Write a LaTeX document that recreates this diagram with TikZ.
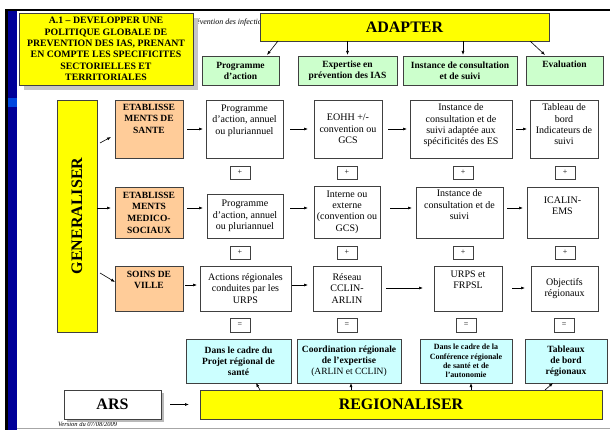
\documentclass[tikz,border=0pt]{standalone}
\usepackage{fontspec}
\setmainfont{Liberation Serif}
\usetikzlibrary{arrows.meta,calc}
\definecolor{ylw}{HTML}{FFFF00}
\definecolor{org}{HTML}{FFCC99}
\definecolor{grn}{HTML}{CCFFCC}
\definecolor{cyn}{HTML}{CCFFFF}
\definecolor{bord}{HTML}{404040}
\definecolor{dblue}{HTML}{000099}
\newcommand\boxnode[7]{\node[bx,#6,minimum width={#4-#2},minimum height={#5-#3}] (#1) at ({(#2+#4)/2},{(#3+#5)/2}) {#7};}
\newcommand\toptext[4]{\node[tx,#3,anchor=north] (#1t) at ($(#1.north)+(0,#2)$) {#4};}
\newcommand\harr[5]{\path (0,#3) coordinate (tmpy); \draw[arr,shorten <=#4pt,shorten >=#5pt] (#1.east |- tmpy) -- (#2.west |- tmpy);}
\tikzset{
  bx/.style={draw=bord,line width=0.8pt,inner sep=0pt,outer sep=0pt,align=center,font=\fontsize{10}{11.3}\selectfont},
  tx/.style={inner sep=0pt,outer sep=0pt,align=center,font=\fontsize{10}{11.3}\selectfont},
  bt/.style={font=\fontsize{9.5}{11.7}\selectfont\bfseries},
  gt/.style={font=\fontsize{9.5}{11}\selectfont\bfseries},
  big/.style={font=\fontsize{16}{18}\selectfont\bfseries},
  sm/.style={font=\fontsize{8}{9}\selectfont},
  arr/.style={-{Latex[length=4pt,width=3pt]},line width=0.6pt,black},
}
\begin{document}
\begin{tikzpicture}[x=1pt,y=-1pt]
\useasboundingbox (0,0) rectangle (610,430);
\fill[white] (0,0) rectangle (610,430);
% frame
\fill[black] (5,9) rectangle (610,11.5);
\fill[black] (5,9) rectangle (7.5,430);
\fill[dblue] (7.5,11.5) rectangle (17,430);
\fill[blue!60!cyan!70!dblue] (7.5,98) rectangle (17,107);
\draw[gray!70,line width=0.8pt] (17,428.5) -- (610,428.5);
% header text
\node[anchor=base west,inner sep=0pt,font=\fontsize{8}{9}\selectfont\itshape] (hdr) at (188,25) {Prévention des infections};
\node[anchor=north west,inner sep=0pt,font=\fontsize{6.5}{8}\selectfont\itshape] (ver) at (58,421.5) {Version du 07/08/2009};
% title
\fill[gray!45] (24,18) rectangle (198,90);
\boxnode{title}{19}{13}{193}{85}{fill=ylw,font=\fontsize{9.8}{11.3}\selectfont\bfseries}{A.1 – DEVELOPPER UNE\\POLITIQUE GLOBALE DE\\PREVENTION DES IAS, PRENANT\\EN COMPTE LES SPECIFICITES\\SECTORIELLES ET\\TERRITORIALES}
\boxnode{adapter}{260}{13}{549}{41}{fill=ylw,big}{ADAPTER}
% green headers
\boxnode{g1}{202}{56}{279}{85}{fill=grn,gt}{Programme\\d’action}
\boxnode{g2}{298}{56}{397}{85}{fill=grn,gt}{Expertise en\\prévention des IAS}
\boxnode{g3}{403}{56}{517}{85}{fill=grn,gt}{Instance de consultation\\et de suivi}
\boxnode{g4}{526}{56}{603}{85}{fill=grn}{}
\toptext{g4}{5}{gt}{Evaluation}
% generaliser
\boxnode{gen}{57}{100}{97}{332}{fill=ylw}{}
\node[big,rotate=90,inner sep=0pt] (gent) at (gen.center) {GENERALISER};
% row 1
\boxnode{o1}{115}{100}{183}{158}{fill=org}{}
\toptext{o1}{4}{bt}{ETABLISSE\\MENTS DE\\SANTE}
\boxnode{r1a}{206}{100}{283}{158}{fill=white}{}
\toptext{r1a}{5}{}{Programme\\d’action, annuel\\ou pluriannuel}
\boxnode{r1b}{314}{100}{382}{158}{fill=white}{EOHH +/-\\convention ou\\GCS}
\boxnode{r1c}{410}{100}{512}{158}{fill=white}{}
\toptext{r1c}{4}{}{Instance de\\consultation et de\\suivi adaptée aux\\spécificités des ES}
\boxnode{r1d}{530}{100}{598}{158}{fill=white}{}
\toptext{r1d}{4}{}{Tableau de\\bord\\Indicateurs de\\suivi}
\boxnode{p1a}{230}{166}{250}{179}{fill=white,sm}{+}
\boxnode{p1b}{337}{166}{357}{179}{fill=white,sm}{+}
\boxnode{p1c}{453}{166}{473}{179}{fill=white,sm}{+}
\boxnode{p1d}{555}{166}{575}{179}{fill=white,sm}{+}
% row 2
\boxnode{o2}{115}{187}{183}{238}{fill=org,bt}{ETABLISSE\\MENTS\\MEDICO-\\SOCIAUX}
\boxnode{r2a}{207}{194}{283}{238}{fill=white}{Programme\\d’action, annuel\\ou pluriannuel}
\boxnode{r2b}{314}{186}{380}{238}{fill=white}{Interne ou\\externe\\(convention ou\\GCS)}
\boxnode{r2c}{416}{187}{503}{238}{fill=white}{}
\toptext{r2c}{3}{}{Instance de\\consultation et de\\suivi}
\boxnode{r2d}{527}{187}{598}{238}{fill=white}{ICALIN-\\EMS\\[2pt]}
\boxnode{p2a}{230}{246}{250}{259}{fill=white,sm}{+}
\boxnode{p2b}{337}{246}{357}{259}{fill=white,sm}{+}
\boxnode{p2c}{453}{246}{473}{259}{fill=white,sm}{+}
\boxnode{p2d}{555}{246}{575}{259}{fill=white,sm}{+}
% row 3
\boxnode{o3}{115}{266}{183}{311}{fill=org}{}
\toptext{o3}{5}{bt}{SOINS DE\\VILLE}
\boxnode{r3a}{200}{266}{291}{311}{fill=white}{Actions régionales\\conduites par les\\URPS}
\boxnode{r3b}{313}{266}{381}{311}{fill=white}{Réseau\\CCLIN-\\ARLIN}
\boxnode{r3c}{434}{266}{502}{311}{fill=white}{}
\toptext{r3c}{5}{}{URPS et\\FRPSL}
\boxnode{r3d}{531}{266}{598}{311}{fill=white}{Objectifs\\régionaux}
\boxnode{e3a}{230}{318}{250}{332}{fill=white,sm}{=}
\boxnode{e3b}{337}{318}{357}{332}{fill=white,sm}{=}
\boxnode{e3c}{456}{318}{476}{332}{fill=white,sm}{=}
\boxnode{e3d}{554}{318}{574}{332}{fill=white,sm}{=}
% cyan
\boxnode{c1}{186}{339}{291}{383}{fill=cyn,gt}{Dans le cadre du\\Projet régional de\\santé}
\boxnode{c2}{297}{339}{401}{383}{fill=cyn,gt}{Coordination régionale\\de l’expertise\\{\normalfont(ARLIN et CCLIN)}}
\boxnode{c3}{420}{339}{512}{383}{fill=cyn,font=\fontsize{8}{9.3}\selectfont\bfseries}{Dans le cadre de la\\Conférence régionale\\de santé et de\\l’autonomie}
\boxnode{c4}{525}{339}{607}{383}{fill=cyn,gt}{Tableaux\\de bord\\régionaux}
% bottom
\boxnode{reg}{200}{390}{602}{419}{fill=ylw,big}{REGIONALISER}
\fill[gray!55] (67,393) rectangle (164,422);
\boxnode{ars}{64}{390}{161}{419}{fill=white,big}{ARS}
% arrows: adapter
\draw[arr] ($(adapter.south west)+(18,0)$) -- ($(g1.north east)+(-12,-1)$);
\draw[arr,shorten >=1pt] (g2.north |- adapter.south) -- (g2.north);
\draw[arr] ($(g3.north |- adapter.south)+(3,0)$) -- ($(g3.north)+(3,-1)$);
\draw[arr] ($(adapter.south east)+(-19,0)$) -- ($(g4.north)+(-19.5,-1)$);
% arrows: generaliser
\draw[arr] ($(gen.north east)+(3,43)$) -- ($(o1.west)+(-4,8)$);
\harr{gen}{o2}{208}{0}{4}
\draw[arr] ($(gen.south east)+(3,-59)$) -- ($(o3.west)+(0,-6.5)$);
% row arrows
\harr{o1}{r1a}{129}{4}{3}
\harr{r1a}{r1b}{129}{7}{6}
\harr{r1b}{r1c}{129}{6}{3}
\harr{r1c}{r1d}{129}{4}{3}
\harr{o2}{r2a}{208}{4}{4}
\harr{r2a}{r2b}{208}{7}{6}
\harr{r2b}{r2c}{208}{10}{4}
\harr{r2c}{r2d}{208}{4}{4}
\harr{o3}{r3a}{285}{2}{3}
\harr{r3a}{r3b}{285}{1}{5}
\harr{r3b}{r3c}{288}{5}{11}
\harr{r3c}{r3d}{288}{10}{6}
% arrows: regionaliser
\draw[arr] ($(reg.north west)+(60,0)$) -- ($(c1.south)+(17.5,0)$);
\draw[arr] ($(c2.south |- reg.north)+(2,0)$) -- ($(c2.south)+(2,0)$);
\draw[arr] ($(c3.south |- reg.north)+(5,0)$) -- ($(c3.south)+(5,0)$);
\draw[arr] ($(reg.north east)+(-57,0)$) -- ($(c4.south)+(-13,0)$);
\draw[arr,shorten <=9pt,shorten >=11pt] (ars.east) -- (reg.west);
\end{tikzpicture}
\end{document}
